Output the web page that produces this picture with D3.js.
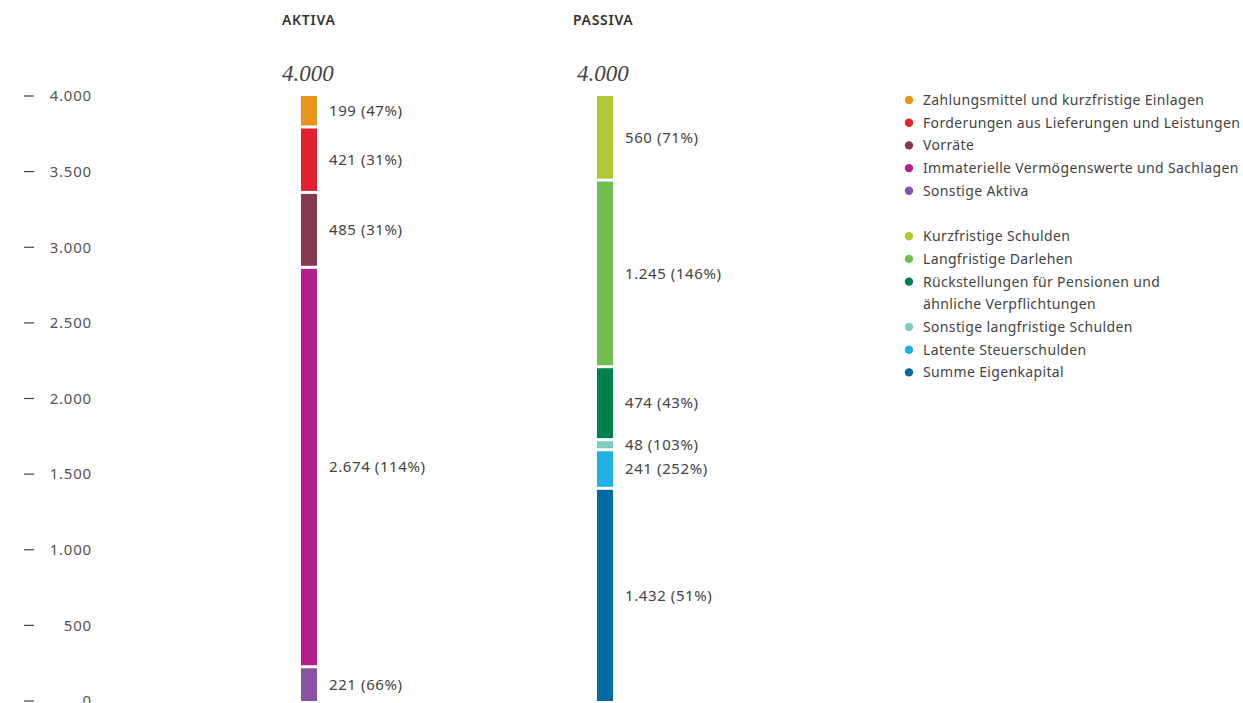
<!DOCTYPE html>
<html>
<head>
<meta charset="utf-8">
<script src="https://cdn.jsdelivr.net/npm/d3@7"></script>
<style>
  html, body { margin: 0; padding: 0; background: #fff; }
  svg { display: block; font-family: 'Noto Sans', sans-serif; }
</style>
</head>
<body>
<script>
(function () {
  'use strict';

  var aktivaNames = ['Zahlungsmittel und kurzfristige Einlagen', 'Forderungen aus Lieferungen und Leistungen',
    'Vorräte', 'Immaterielle Vermögenswerte und Sachlagen', 'Sonstige Aktiva'];
  var aktivaValues = [199, 421, 485, 2674, 221];
  var aktivaPct = [47, 31, 31, 114, 66];
  var aktivaColors = ['#e8931a', '#e2202f', '#86394f', '#b41f8b', '#8853a3'];

  var passivaNames = ['Kurzfristige Schulden', 'Langfristige Darlehen',
    'Rückstellungen für Pensionen und|ähnliche Verpflichtungen', 'Sonstige langfristige Schulden',
    'Latente Steuerschulden', 'Summe Eigenkapital'];
  var passivaValues = [560, 1245, 474, 48, 241, 1432];
  var passivaPct = [71, 146, 43, 103, 252, 51];
  var passivaColors = ['#afc934', '#71be4e', '#00804f', '#7ecdc1', '#21b1e6', '#006ba5'];

  var yTicks = [0, 500, 1000, 1500, 2000, 2500, 3000, 3500, 4000];
  var total = 4000;

  var width = 1243, height = 703;
  var top0 = 96, bottom0 = 701, gap = 3;
  var fmt = d3.formatLocale({ decimal: ',', thousands: '.', grouping: [3], currency: ['', '€'] }).format(',d');

  var svg = d3.select('body').append('svg')
    .attr('width', width)
    .attr('height', height);

  var y = d3.scaleLinear().domain([0, total]).range([bottom0, top0]);

  // axis: short dash + right aligned label
  var axis = svg.append('g').attr('class', 'axis');
  yTicks.forEach(function (t) {
    axis.append('line')
      .attr('x1', 24).attr('x2', 34)
      .attr('y1', y(t)).attr('y2', y(t))
      .attr('stroke', '#444').attr('stroke-width', 1.2);
    axis.append('text')
      .attr('x', 92).attr('y', y(t))
      .attr('dy', '0.35em')
      .attr('text-anchor', 'end')
      .attr('fill', '#555')
      .attr('font-size', 15)
      .attr('letter-spacing', 0.8)
      .text(fmt(t));
  });

  function drawStack(names, values, pct, colors, x, title, titleX, totalX) {
    var g = svg.append('g');
    // segment heights exclude the white gaps between them
    var h = d3.scaleLinear().domain([0, total])
      .range([0, (bottom0 - top0) - gap * (values.length - 1)]);
    var pos = top0;
    var segs = values.map(function (v, i) {
      var s = { name: names[i], value: v, pct: pct[i], color: colors[i], y: pos, h: h(v) };
      pos += h(v) + gap;
      return s;
    });

    g.append('text')
      .attr('x', titleX).attr('y', 25)
      .attr('font-size', 14).attr('font-weight', 600)
      .attr('letter-spacing', 0.7)
      .attr('fill', '#333')
      .text(title);

    g.append('text')
      .attr('x', totalX).attr('y', 81)
      .attr('font-family', "'Liberation Serif', 'DejaVu Serif', serif")
      .attr('font-style', 'italic')
      .attr('font-size', 23)
      .attr('fill', '#444')
      .text(fmt(total));

    g.selectAll('rect')
      .data(segs)
      .enter()
      .append('rect')
      .attr('x', x)
      .attr('width', 16)
      .attr('y', function (d) { return d.y; })
      .attr('height', function (d) { return d.h; })
      .attr('fill', function (d) { return d.color; });

    g.selectAll('text.val')
      .data(segs)
      .enter()
      .append('text')
      .attr('class', 'val')
      .attr('x', x + 28)
      .attr('y', function (d) { return d.y + d.h / 2; })
      .attr('dy', '0.35em')
      .attr('font-size', 15)
      .attr('letter-spacing', 0.6)
      .attr('fill', '#444')
      .text(function (d) { return fmt(d.value) + ' (' + d.pct + '%)'; });
  }

  drawStack(aktivaNames, aktivaValues, aktivaPct, aktivaColors, 301, 'AKTIVA', 282, 282);
  drawStack(passivaNames, passivaValues, passivaPct, passivaColors, 597, 'PASSIVA', 573, 577);

  // legend
  var legend = svg.append('g');
  var rowH = 22.7;
  var ly = 100;
  function addItems(names, colors) {
    names.forEach(function (n, i) {
      var lines = n.split('|');
      legend.append('circle')
        .attr('cx', 909).attr('cy', ly)
        .attr('r', 4.2)
        .attr('fill', colors[i]);
      lines.forEach(function (l, k) {
        legend.append('text')
          .attr('x', 923).attr('y', ly + k * rowH)
          .attr('dy', '0.35em')
          .attr('font-size', 14)
          .attr('letter-spacing', 0.35)
          .attr('fill', '#444')
          .text(l);
      });
      ly += rowH * lines.length;
    });
  }
  addItems(aktivaNames, aktivaColors);
  ly += rowH;
  addItems(passivaNames, passivaColors);
}());
</script>
</body>
</html>
